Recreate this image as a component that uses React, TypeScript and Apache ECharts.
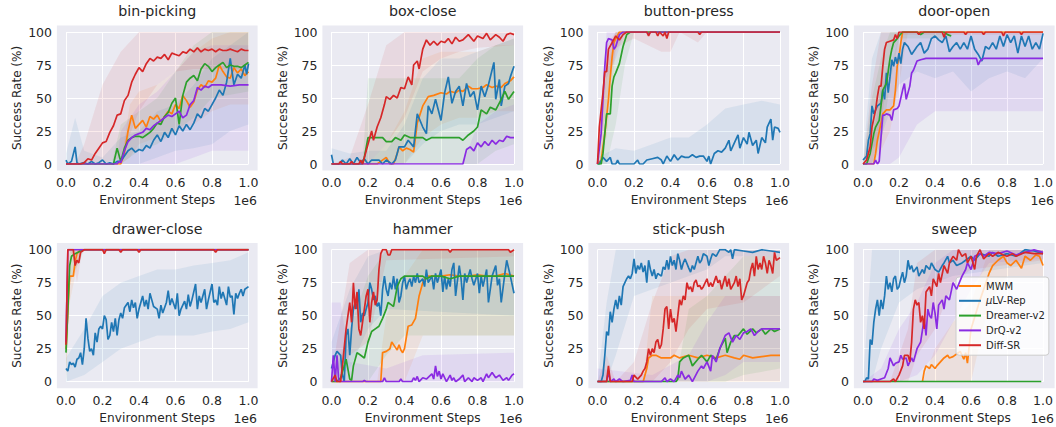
import React, { useEffect, useRef } from "react";
import * as echarts from "echarts";

type Pt = [number, number];
type Bd = [number, number, number][];

const METHODS = ["MWM", "μLV-Rep", "Dreamer-v2", "DrQ-v2", "Diff-SR"];
const COLORS = ["#ff7f0e", "#1f77b4", "#2ca02c", "#8a2be2", "#d62728"];
const TASKS = ["bin-picking", "box-close", "button-press", "door-open", "drawer-close", "hammer", "stick-push", "sweep"];
const X_TICK_STEP = 0.2;
const Y_TICK_STEP = 25;
const X_SCALE_LABEL = "1e6";
const X_NAME = "Environment Steps";
const Y_NAME = "Success Rate (%)";

// ---------- bin-picking ----------
const binMWM: Pt[] = [[0,0],[0.3,0],[0.32,8],[0.34,25],[0.36,37],[0.38,27],[0.4,30],[0.42,33],[0.44,28],[0.46,36],[0.48,34],[0.5,37],[0.52,32],[0.54,36],[0.56,40],[0.58,38],[0.6,45],[0.62,42],[0.64,52],[0.66,48],[0.68,43],[0.7,47],[0.72,56],[0.74,60],[0.76,58],[0.78,63],[0.8,62],[0.82,65],[0.84,75],[0.86,70],[0.88,66],[0.9,65],[0.92,73],[0.94,69],[0.96,72],[0.98,67],[1.0,70]];
const binLV: Pt[] = [[0,3],[0.01,0],[0.03,2],[0.05,13],[0.06,1],[0.07,0],[0.1,1],[0.12,0],[0.14,2],[0.16,0],[0.18,1],[0.2,3],[0.22,0],[0.24,1],[0.26,0],[0.28,2],[0.3,2],[0.32,6],[0.34,10],[0.36,12],[0.38,9],[0.4,11],[0.42,10],[0.44,14],[0.46,12],[0.48,18],[0.5,22],[0.52,17],[0.54,24],[0.56,20],[0.58,27],[0.6,22],[0.62,29],[0.64,25],[0.66,30],[0.68,26],[0.7,31],[0.72,38],[0.74,35],[0.76,42],[0.78,40],[0.8,45],[0.82,50],[0.84,56],[0.86,52],[0.88,62],[0.9,80],[0.92,60],[0.94,68],[0.96,65],[0.98,75],[0.99,68],[1.0,76]];
const binDreamer: Pt[] = [[0,0],[0.26,0],[0.28,12],[0.3,2],[0.32,12],[0.34,18],[0.36,20],[0.38,21],[0.4,21],[0.42,20],[0.44,22],[0.46,24],[0.48,27],[0.5,31],[0.52,30],[0.54,36],[0.56,39],[0.58,46],[0.6,50],[0.62,30],[0.64,52],[0.66,62],[0.68,65],[0.7,67],[0.72,63],[0.74,72],[0.76,76],[0.78,74],[0.8,70],[0.82,73],[0.84,75],[0.86,77],[0.88,73],[0.9,75],[0.92,74],[0.94,74],[0.96,73],[0.98,75],[1.0,77]];
const binDrQ: Pt[] = [[0,0],[0.28,0],[0.29,2],[0.3,1],[0.32,10],[0.34,17],[0.36,20],[0.38,22],[0.4,23],[0.42,24],[0.44,27],[0.46,26],[0.48,29],[0.5,31],[0.52,33],[0.54,35],[0.56,37],[0.58,36],[0.6,38],[0.62,40],[0.64,35],[0.66,37],[0.68,45],[0.7,48],[0.72,58],[0.74,56],[0.76,59],[0.78,58],[0.8,60],[0.85,60],[0.9,59],[0.95,60],[1.0,60]];
const binDiff: Pt[] = [[0,0],[0.08,0],[0.1,1],[0.12,4],[0.14,3],[0.16,8],[0.18,12],[0.2,16],[0.22,17],[0.24,24],[0.26,29],[0.28,37],[0.3,38],[0.32,48],[0.34,52],[0.36,62],[0.38,68],[0.4,73],[0.42,70],[0.44,76],[0.46,80],[0.48,78],[0.5,81],[0.52,80],[0.54,83],[0.56,79],[0.58,84],[0.6,83],[0.62,82],[0.64,85],[0.66,84],[0.68,87],[0.7,85],[0.72,88],[0.74,85],[0.76,87],[0.78,86],[0.8,87],[0.82,85],[0.84,87],[0.86,86],[0.88,86],[0.9,87],[0.92,86],[0.94,85],[0.96,87],[0.98,86],[1.0,86]];
const binMWMBand: Bd = [[0.3,0,0],[0.35,5,45],[0.4,15,55],[0.5,20,60],[0.6,25,70],[0.7,30,85],[0.8,40,95],[0.9,45,100],[1,45,100]];
const binLVBand: Bd = [[0,0,8],[0.05,0,35],[0.1,0,10],[0.2,0,5],[0.3,0,20],[0.4,0,25],[0.5,5,40],[0.6,10,45],[0.7,12,60],[0.8,15,80],[0.9,25,90],[1,30,100]];
const binDreamerBand: Bd = [[0.25,0,0],[0.3,0,30],[0.4,10,40],[0.5,15,50],[0.6,25,70],[0.7,35,90],[0.8,50,100],[1,55,100]];
const binDrQBand: Bd = [[0.28,0,0],[0.3,0,25],[0.4,0,45],[0.5,0,55],[0.6,0,70],[0.7,5,85],[0.8,10,90],[1,10,90]];
const binDiffBand: Bd = [[0.05,0,0],[0.1,0,15],[0.2,0,60],[0.3,5,85],[0.4,40,100],[0.5,60,100],[0.6,70,100],[0.7,72,100],[1,72,100]];

// ---------- box-close ----------
const boxMWM: Pt[] = [[0,0],[0.25,0],[0.27,2],[0.3,5],[0.32,0],[0.34,0],[0.36,8],[0.37,13],[0.39,10],[0.41,12],[0.43,11],[0.45,9],[0.47,31],[0.5,44],[0.53,51],[0.56,52],[0.6,54],[0.63,53],[0.65,55],[0.68,54],[0.7,56],[0.72,55],[0.75,59],[0.77,57],[0.8,57],[0.83,58],[0.85,60],[0.88,58],[0.9,59],[0.93,58],[0.95,61],[0.98,63],[1.0,66]];
const boxLV: Pt[] = [[0,7],[0.01,0],[0.04,0],[0.06,3],[0.08,0],[0.1,4],[0.12,0],[0.14,5],[0.16,1],[0.18,4],[0.2,0],[0.22,3],[0.26,3],[0.28,0],[0.3,3],[0.33,0],[0.35,3],[0.37,13],[0.4,13],[0.42,18],[0.45,13],[0.47,38],[0.5,28],[0.52,23],[0.53,44],[0.55,38],[0.57,49],[0.6,33],[0.62,54],[0.64,66],[0.66,46],[0.68,55],[0.7,59],[0.72,44],[0.74,61],[0.76,51],[0.78,55],[0.8,41],[0.82,59],[0.84,51],[0.86,60],[0.89,77],[0.9,49],[0.92,64],[0.93,44],[0.95,59],[0.97,61],[0.98,66],[1.0,74]];
const boxDreamer: Pt[] = [[0,0],[0.17,0],[0.18,5],[0.2,20],[0.25,20],[0.28,20],[0.3,17],[0.33,17],[0.35,20],[0.38,18],[0.4,22],[0.43,20],[0.45,20],[0.5,20],[0.52,18],[0.55,20],[0.6,20],[0.65,20],[0.7,20],[0.72,18],[0.75,22],[0.78,25],[0.8,28],[0.82,41],[0.85,38],[0.87,43],[0.9,41],[0.93,49],[0.95,55],[0.97,49],[1.0,55]];
const boxDrQ: Pt[] = [[0,0],[0.72,0],[0.74,11],[0.76,13],[0.78,10],[0.8,16],[0.82,13],[0.84,17],[0.86,14],[0.88,18],[0.9,15],[0.92,18],[0.94,17],[0.96,21],[0.98,20],[1.0,20]];
const boxDiff: Pt[] = [[0,0],[0.04,0],[0.05,2],[0.06,0],[0.1,0],[0.11,2],[0.12,0],[0.15,0],[0.16,3],[0.17,0],[0.18,5],[0.2,15],[0.22,25],[0.23,18],[0.25,28],[0.27,35],[0.29,45],[0.3,51],[0.32,49],[0.34,52],[0.36,50],[0.38,58],[0.4,57],[0.42,66],[0.44,60],[0.45,75],[0.47,78],[0.48,72],[0.5,87],[0.52,94],[0.54,90],[0.56,93],[0.58,90],[0.6,93],[0.62,92],[0.64,95],[0.66,91],[0.68,96],[0.7,93],[0.72,94],[0.75,98],[0.78,93],[0.8,97],[0.83,95],[0.85,99],[0.87,94],[0.9,98],[0.92,96],[0.94,93],[0.96,98],[0.98,99],[1.0,98]];
const boxMWMBand: Bd = [[0.2,0,0],[0.3,0,15],[0.4,0,40],[0.5,20,80],[0.6,30,85],[0.7,35,85],[0.8,35,85],[0.9,40,90],[1,40,90]];
const boxLVBand: Bd = [[0,0,12],[0.1,0,8],[0.2,0,10],[0.3,0,10],[0.4,0,30],[0.5,15,65],[0.6,25,80],[0.7,30,80],[0.8,30,85],[0.9,35,90],[1,40,95]];
const boxDreamerBand: Bd = [[0.17,0,0],[0.2,0,65],[0.7,0,65],[0.8,0,80],[0.9,10,90],[1,15,95]];
const boxDrQBand: Bd = [[0.72,0,0],[0.8,0,30],[0.9,0,40],[1,0,45]];
const boxDiffBand: Bd = [[0,0,0],[0.1,0,5],[0.2,0,45],[0.3,15,90],[0.4,35,100],[0.5,70,100],[0.6,80,100],[0.7,85,100],[0.8,88,100],[1,90,100]];

// ---------- button-press ----------
const btnMWM: Pt[] = [[0,0],[0.02,3],[0.04,23],[0.06,49],[0.07,66],[0.08,81],[0.09,92],[0.1,95],[0.12,100],[1.0,100]];
const btnLV: Pt[] = [[0,0],[0.01,0],[0.03,5],[0.05,2],[0.07,5],[0.08,0],[0.1,0],[0.11,3],[0.12,0],[0.2,0],[0.22,3],[0.23,0],[0.25,0],[0.27,3],[0.3,4],[0.33,5],[0.35,3],[0.36,0],[0.38,6],[0.4,2],[0.42,7],[0.44,3],[0.46,6],[0.48,5],[0.5,5],[0.52,7],[0.54,5],[0.56,6],[0.58,6],[0.6,2],[0.61,6],[0.62,0],[0.64,8],[0.66,10],[0.68,9],[0.7,12],[0.72,18],[0.73,10],[0.75,16],[0.77,22],[0.78,12],[0.8,20],[0.82,15],[0.83,24],[0.85,14],[0.87,18],[0.88,8],[0.9,20],[0.92,16],[0.93,28],[0.95,34],[0.96,18],[0.97,28],[0.99,27],[1.0,24]];
const btnDreamer: Pt[] = [[0,0],[0.02,0],[0.03,8],[0.04,23],[0.05,38],[0.07,38],[0.08,59],[0.09,66],[0.1,69],[0.12,76],[0.14,89],[0.16,98],[0.18,100],[1.0,100]];
const btnDrQ: Pt[] = [[0,0],[0.02,23],[0.03,49],[0.04,74],[0.05,92],[0.06,95],[0.08,94],[0.09,87],[0.1,89],[0.12,98],[0.14,100],[0.27,100],[0.28,98],[0.29,100],[1.0,100]];
const btnDiff: Pt[] = [[0,0],[0.01,28],[0.03,54],[0.04,70],[0.05,70],[0.06,87],[0.08,92],[0.1,97],[0.12,94],[0.14,98],[0.16,100],[0.27,100],[0.28,97],[0.29,100],[0.32,100],[0.33,97],[0.34,100],[0.36,97],[0.37,100],[0.38,95],[0.39,100],[0.55,100],[0.56,98],[0.57,100],[1.0,100]];
const btnMWMBand: Bd = [[0,0,0],[0.05,20,85],[0.1,85,100],[0.15,100,100],[1,100,100]];
const btnLVBand: Bd = [[0,0,5],[0.1,0,12],[0.2,0,10],[0.3,0,15],[0.4,0,20],[0.5,0,20],[0.6,0,30],[0.7,0,42],[0.8,0,45],[0.9,0,48],[1,0,45]];
const btnDreamerBand: Bd = [[0,0,0],[0.05,0,70],[0.1,30,100],[0.15,75,100],[0.2,100,100],[1,100,100]];
const btnDrQBand: Bd = [[0,0,0],[0.05,65,100],[0.1,80,100],[0.15,100,100],[1,100,100]];
const btnDiffBand: Bd = [[0,0,0],[0.05,45,90],[0.1,88,100],[0.2,95,100],[0.35,85,100],[0.4,85,100],[0.45,100,100],[0.55,92,100],[0.6,100,100],[1,100,100]];

// ---------- door-open ----------
const doorMWM: Pt[] = [[0,0],[0.06,0],[0.07,8],[0.08,18],[0.1,31],[0.11,38],[0.13,41],[0.15,41],[0.17,44],[0.18,56],[0.19,74],[0.2,81],[0.21,92],[0.22,100],[1.0,100]];
const doorLV: Pt[] = [[0,3],[0.02,6],[0.03,18],[0.04,23],[0.05,44],[0.06,38],[0.07,41],[0.08,44],[0.1,46],[0.11,56],[0.12,49],[0.13,69],[0.14,54],[0.15,66],[0.16,79],[0.17,74],[0.18,81],[0.19,76],[0.2,84],[0.21,76],[0.22,87],[0.23,92],[0.25,89],[0.27,83],[0.29,87],[0.3,89],[0.32,92],[0.34,84],[0.36,87],[0.38,95],[0.4,97],[0.42,94],[0.44,92],[0.46,97],[0.48,85],[0.5,89],[0.52,92],[0.54,87],[0.56,92],[0.58,87],[0.6,97],[0.62,87],[0.64,83],[0.66,78],[0.68,89],[0.7,87],[0.72,92],[0.74,87],[0.76,97],[0.78,89],[0.8,98],[0.82,92],[0.84,97],[0.86,84],[0.88,97],[0.9,89],[0.92,97],[0.94,87],[0.96,92],[0.98,87],[1.0,99]];
const doorDreamer: Pt[] = [[0,0],[0.02,0],[0.04,8],[0.06,23],[0.07,28],[0.09,33],[0.1,44],[0.11,56],[0.13,61],[0.14,70],[0.15,80],[0.16,87],[0.17,92],[0.19,95],[0.2,97],[0.22,100],[0.3,100],[0.32,98],[0.34,100],[0.45,100],[0.47,98],[0.49,97]];
const doorDrQ: Pt[] = [[0,0],[0.06,0],[0.07,3],[0.08,0],[0.09,2],[0.1,20],[0.11,37],[0.12,37],[0.13,38],[0.15,37],[0.16,33],[0.17,41],[0.19,42],[0.2,44],[0.22,56],[0.23,61],[0.24,49],[0.26,59],[0.27,69],[0.28,71],[0.3,78],[0.32,79],[0.35,80],[0.63,80],[0.64,75],[0.65,78],[0.67,80],[1.0,80]];
const doorDiff: Pt[] = [[0,0],[0.02,3],[0.04,13],[0.05,28],[0.07,41],[0.08,51],[0.09,59],[0.1,59],[0.11,74],[0.12,87],[0.13,92],[0.15,93],[0.17,94],[0.18,98],[0.19,95],[0.2,100],[0.3,100],[0.31,98],[0.32,100],[0.44,100],[0.45,96],[0.46,100],[0.56,100],[0.57,98],[0.58,100],[0.66,100],[0.67,98],[0.68,100],[0.77,100],[0.78,97],[0.79,100],[0.87,100],[0.88,98],[0.89,100],[1.0,100]];
const doorMWMBand: Bd = [[0,0,0],[0.05,0,20],[0.1,10,60],[0.15,25,70],[0.2,60,100],[0.25,100,100],[1,100,100]];
const doorLVBand: Bd = [[0,0,5],[0.05,10,80],[0.1,20,100],[0.2,60,100],[0.3,70,100],[0.4,65,100],[0.5,70,100],[0.6,55,100],[0.7,65,100],[0.8,70,100],[0.9,65,100],[1,80,100]];
const doorDreamerBand: Bd = [[0,0,0],[0.05,0,50],[0.1,15,80],[0.15,60,100],[0.2,95,100],[0.49,95,100]];
const doorDrQBand: Bd = [[0,0,0],[0.05,0,10],[0.1,0,60],[0.15,0,80],[0.2,5,100],[0.3,30,100],[0.4,40,100],[1,40,100]];
const doorDiffBand: Bd = [[0,0,0],[0.05,0,60],[0.1,30,100],[0.15,80,100],[0.2,98,100],[1,98,100]];

// ---------- drawer-close ----------
const drawerMWM: Pt[] = [[0,25],[0.02,80],[0.04,80],[0.05,91],[0.06,97],[0.08,100],[1.0,100]];
const drawerLV: Pt[] = [[0,10],[0.01,8],[0.02,15],[0.03,13],[0.04,14],[0.05,11],[0.06,17],[0.07,18],[0.08,22],[0.09,13],[0.1,25],[0.11,48],[0.12,33],[0.13,23],[0.14,25],[0.15,20],[0.16,37],[0.17,30],[0.18,40],[0.19,42],[0.2,40],[0.21,50],[0.22,47],[0.23,32],[0.24,35],[0.25,45],[0.26,38],[0.27,48],[0.28,35],[0.29,47],[0.3,52],[0.31,48],[0.32,56],[0.34,60],[0.35,53],[0.36,62],[0.37,56],[0.38,60],[0.39,48],[0.4,55],[0.42,65],[0.43,57],[0.44,62],[0.45,55],[0.46,67],[0.47,62],[0.48,57],[0.5,55],[0.51,48],[0.52,58],[0.53,52],[0.55,60],[0.56,69],[0.57,58],[0.58,63],[0.6,55],[0.61,67],[0.62,50],[0.63,55],[0.65,61],[0.66,55],[0.67,66],[0.68,57],[0.69,62],[0.71,74],[0.72,55],[0.73,65],[0.74,60],[0.76,70],[0.77,55],[0.78,62],[0.8,74],[0.81,60],[0.82,62],[0.83,58],[0.84,72],[0.85,63],[0.86,68],[0.88,58],[0.89,72],[0.9,64],[0.91,65],[0.92,51],[0.93,67],[0.94,63],[0.95,67],[0.96,70],[0.97,65],[0.98,70],[1.0,72]];
const drawerDreamer: Pt[] = [[0,22],[0.02,88],[0.03,95],[0.05,97],[0.08,99],[0.1,100],[1.0,100]];
const drawerDrQ: Pt[] = [[0,30],[0.01,100],[1.0,100]];
const drawerDiff: Pt[] = [[0,28],[0.01,100],[0.04,100],[0.05,88],[0.06,92],[0.07,90],[0.08,98],[0.1,100],[0.2,100],[0.21,97],[0.22,100],[0.29,100],[0.3,98],[0.31,100],[0.39,100],[0.4,98],[0.41,100],[0.81,100],[0.82,98],[0.83,100],[1.0,100]];
const drawerMWMBand: Bd = [[0,0,60],[0.02,60,100],[0.05,80,100],[0.08,100,100],[1,100,100]];
const drawerLVBand: Bd = [[0,0,18],[0.1,5,40],[0.2,15,65],[0.3,25,75],[0.4,30,80],[0.5,35,85],[0.6,35,85],[0.7,35,88],[0.8,38,90],[0.9,40,92],[1,45,98]];
const drawerDreamerBand: Bd = [[0,0,50],[0.02,75,100],[0.1,100,100],[1,100,100]];
const drawerDrQBand: Bd = [[0,0,70],[0.01,100,100],[1,100,100]];
const drawerDiffBand: Bd = [[0,0,60],[0.01,100,100],[0.04,95,100],[0.06,75,100],[0.09,100,100],[1,100,100]];

// ---------- hammer ----------
const hamMWM: Pt[] = [[0,0],[0.27,0],[0.28,22],[0.3,23],[0.32,25],[0.33,30],[0.35,26],[0.36,24],[0.37,28],[0.38,24],[0.39,22],[0.4,25],[0.42,42],[0.44,43],[0.46,48],[0.48,65],[0.5,75],[0.52,80],[0.55,80],[0.6,80],[0.65,81],[0.7,80],[0.75,80],[0.8,81],[0.85,80],[0.9,80],[0.95,82],[1.0,80]];
const hamLV: Pt[] = [[0,10],[0.02,20],[0.03,23],[0.05,20],[0.06,5],[0.07,0],[0.08,35],[0.09,40],[0.1,20],[0.11,40],[0.12,55],[0.13,60],[0.14,55],[0.15,70],[0.16,45],[0.17,52],[0.18,50],[0.19,55],[0.2,60],[0.21,75],[0.22,70],[0.23,62],[0.24,65],[0.25,57],[0.26,60],[0.27,50],[0.28,70],[0.29,80],[0.3,70],[0.31,65],[0.32,75],[0.33,70],[0.34,80],[0.35,70],[0.36,78],[0.37,60],[0.38,65],[0.39,75],[0.4,80],[0.41,70],[0.42,75],[0.43,78],[0.44,72],[0.45,80],[0.46,75],[0.47,82],[0.48,75],[0.5,78],[0.51,72],[0.52,85],[0.53,75],[0.55,80],[0.56,70],[0.57,82],[0.58,75],[0.6,85],[0.61,68],[0.62,80],[0.63,70],[0.64,78],[0.65,72],[0.66,85],[0.67,90],[0.68,65],[0.7,88],[0.71,78],[0.72,62],[0.73,82],[0.74,75],[0.76,85],[0.77,78],[0.78,73],[0.8,82],[0.81,67],[0.82,80],[0.83,72],[0.85,85],[0.86,60],[0.87,70],[0.88,80],[0.9,88],[0.91,73],[0.92,78],[0.93,60],[0.95,82],[0.96,92],[0.97,86],[0.98,80],[1.0,67]];
const hamDreamer: Pt[] = [[0,0],[0.03,0],[0.05,3],[0.07,12],[0.08,17],[0.1,2],[0.11,1],[0.12,12],[0.14,22],[0.16,20],[0.18,18],[0.2,30],[0.22,38],[0.24,40],[0.26,42],[0.28,48],[0.3,55],[0.31,60],[0.33,58],[0.34,57],[0.36,72],[0.38,78],[0.4,80],[0.45,80],[0.5,80],[0.52,78],[0.55,80],[0.6,80],[0.65,78],[0.7,80],[1.0,80]];
const hamDrQ: Pt[] = [[0,0],[0.01,20],[0.02,0],[0.03,20],[0.04,0],[0.17,0],[0.18,1],[0.19,0],[0.28,0],[0.29,3],[0.3,0],[0.37,0],[0.38,2],[0.39,0],[0.44,0],[0.45,3],[0.46,1],[0.47,4],[0.48,0],[0.5,3],[0.52,2],[0.55,6],[0.56,2],[0.57,12],[0.58,4],[0.59,8],[0.6,2],[0.61,6],[0.62,3],[0.63,0],[0.65,5],[0.66,1],[0.67,3],[0.68,0],[0.7,2],[0.72,5],[0.73,0],[0.75,3],[0.77,0],[0.78,3],[0.8,1],[0.82,3],[0.83,0],[0.85,6],[0.86,3],[0.88,7],[0.9,3],[0.92,5],[0.94,1],[0.96,3],[0.97,1],[0.99,5],[1.0,6]];
const hamDiff: Pt[] = [[0,0],[0.02,5],[0.03,0],[0.05,0],[0.06,12],[0.08,40],[0.1,60],[0.11,45],[0.12,75],[0.13,55],[0.14,68],[0.15,40],[0.16,35],[0.17,45],[0.18,55],[0.19,65],[0.2,70],[0.21,45],[0.22,60],[0.23,68],[0.24,58],[0.25,62],[0.26,85],[0.27,97],[0.28,100],[0.3,100],[0.31,96],[0.32,96],[0.33,100],[0.64,100],[0.65,98],[0.66,100],[0.97,100],[0.98,98],[1.0,100]];
const hamMWMBand: Bd = [[0.25,0,0],[0.3,0,50],[0.4,0,80],[0.5,35,100],[1,35,100]];
const hamLVBand: Bd = [[0,0,30],[0.1,10,70],[0.2,40,95],[0.3,55,100],[1,50,100]];
const hamDreamerBand: Bd = [[0,0,0],[0.1,0,40],[0.2,0,80],[0.3,20,100],[0.4,35,100],[1,35,100]];
const hamDrQBand: Bd = [[0,0,60],[0.05,0,60],[0.1,0,15],[0.3,0,10],[0.5,0,20],[1,0,22]];
const hamDiffBand: Bd = [[0,0,5],[0.1,20,90],[0.2,30,100],[0.3,92,100],[1,95,100]];

// ---------- stick-push ----------
const stickMWM: Pt[] = [[0,0],[0.25,0],[0.27,10],[0.28,18],[0.3,20],[0.32,20],[0.35,18],[0.4,18],[0.42,20],[0.45,18],[0.5,20],[0.55,18],[0.6,20],[0.65,18],[0.7,20],[0.75,18],[0.78,17],[0.8,20],[0.85,18],[0.9,19],[0.95,20],[1.0,20]];
const stickLV: Pt[] = [[0,0],[0.02,0],[0.03,5],[0.04,20],[0.05,38],[0.06,35],[0.07,53],[0.08,45],[0.09,55],[0.1,62],[0.11,55],[0.12,65],[0.13,58],[0.14,72],[0.15,75],[0.16,78],[0.17,80],[0.18,78],[0.19,82],[0.2,93],[0.21,82],[0.22,88],[0.23,85],[0.24,90],[0.25,83],[0.26,88],[0.27,75],[0.28,92],[0.29,85],[0.3,80],[0.31,85],[0.32,78],[0.33,82],[0.35,80],[0.36,87],[0.37,85],[0.38,92],[0.39,85],[0.4,95],[0.41,88],[0.42,92],[0.43,85],[0.44,97],[0.45,92],[0.46,85],[0.47,90],[0.48,93],[0.5,86],[0.51,83],[0.52,88],[0.53,85],[0.55,95],[0.56,90],[0.57,92],[0.58,97],[0.6,95],[0.61,88],[0.62,93],[0.63,97],[0.65,95],[0.67,100],[0.7,100],[0.72,98],[0.73,100],[0.74,93],[0.75,100],[0.8,99],[0.85,98],[0.9,100],[0.95,99],[1.0,98]];
const stickDreamer: Pt[] = [[0,0],[0.43,0],[0.44,2],[0.45,15],[0.47,18],[0.5,20],[0.52,12],[0.55,17],[0.57,20],[0.6,15],[0.62,20],[0.65,17],[0.67,25],[0.7,33],[0.71,22],[0.73,30],[0.75,35],[0.77,35],[0.8,40],[0.82,36],[0.85,40],[0.87,37],[0.9,40],[0.92,36],[0.95,40],[0.97,38],[1.0,40]];
const stickDrQ: Pt[] = [[0,0],[0.05,0],[0.06,8],[0.07,0],[0.09,2],[0.1,0],[0.12,2],[0.14,0],[0.18,1],[0.19,5],[0.2,0],[0.35,0],[0.37,3],[0.38,0],[0.4,2],[0.42,0],[0.44,5],[0.45,3],[0.46,8],[0.48,2],[0.5,5],[0.52,0],[0.55,8],[0.57,12],[0.58,10],[0.6,15],[0.62,8],[0.63,20],[0.65,15],[0.67,25],[0.7,35],[0.72,37],[0.74,30],[0.76,35],[0.78,32],[0.8,37],[0.82,38],[0.84,40],[0.86,35],[0.88,38],[0.9,40],[0.95,40],[1.0,40]];
const stickDiff: Pt[] = [[0,0],[0.05,0],[0.06,12],[0.07,0],[0.19,0],[0.2,5],[0.22,2],[0.24,5],[0.25,8],[0.26,10],[0.27,15],[0.28,25],[0.29,20],[0.3,25],[0.31,22],[0.32,30],[0.33,32],[0.34,25],[0.35,28],[0.36,40],[0.37,55],[0.38,57],[0.39,40],[0.4,55],[0.41,45],[0.42,48],[0.43,38],[0.44,50],[0.45,62],[0.46,58],[0.47,65],[0.48,62],[0.49,75],[0.5,70],[0.51,72],[0.52,68],[0.53,75],[0.54,77],[0.55,72],[0.56,73],[0.57,70],[0.58,72],[0.6,78],[0.61,72],[0.62,75],[0.63,72],[0.65,80],[0.66,75],[0.67,77],[0.68,70],[0.7,80],[0.71,72],[0.72,78],[0.73,70],[0.75,75],[0.76,80],[0.77,72],[0.78,78],[0.79,62],[0.8,65],[0.82,75],[0.83,77],[0.84,85],[0.85,90],[0.86,80],[0.87,95],[0.88,85],[0.89,90],[0.9,85],[0.91,95],[0.92,90],[0.93,82],[0.94,92],[0.95,88],[0.96,82],[0.97,98],[0.98,92],[1.0,94]];
const stickMWMBand: Bd = [[0.25,0,0],[0.3,0,65],[1,0,65]];
const stickLVBand: Bd = [[0,0,0],[0.05,0,60],[0.1,20,100],[0.2,65,100],[0.4,75,100],[0.6,85,100],[0.7,95,100],[1,95,100]];
const stickDreamerBand: Bd = [[0.43,0,0],[0.5,0,55],[0.6,0,65],[0.7,0,80],[0.8,5,95],[1,10,95]];
const stickDrQBand: Bd = [[0,0,10],[0.3,0,5],[0.5,0,20],[0.6,0,45],[0.7,5,65],[0.8,15,65],[1,15,65]];
const stickDiffBand: Bd = [[0,0,0],[0.05,0,20],[0.1,0,0],[0.2,0,15],[0.3,0,60],[0.4,15,95],[0.5,40,100],[0.6,55,100],[0.8,60,100],[1,80,100]];

// ---------- sweep ----------
const sweepMWM: Pt[] = [[0.33,0],[0.34,8],[0.35,12],[0.37,10],[0.38,13],[0.4,10],[0.41,12],[0.43,15],[0.45,18],[0.47,20],[0.48,18],[0.5,19],[0.52,21],[0.54,23],[0.56,17],[0.57,22],[0.58,14],[0.6,40],[0.65,62],[0.7,82],[0.72,88],[0.75,92],[0.78,95],[0.8,90],[0.82,88],[0.85,92],[0.88,86],[0.9,95],[0.93,92],[0.96,96],[0.98,95],[1.0,88]];
const sweepLV: Pt[] = [[0,0],[0.01,0],[0.02,3],[0.03,2],[0.04,32],[0.05,28],[0.06,45],[0.07,55],[0.08,62],[0.09,50],[0.1,62],[0.11,55],[0.12,65],[0.13,80],[0.14,70],[0.15,75],[0.16,68],[0.17,78],[0.18,80],[0.19,70],[0.2,72],[0.21,78],[0.22,83],[0.23,75],[0.24,80],[0.25,92],[0.26,85],[0.27,88],[0.28,83],[0.3,87],[0.31,80],[0.33,85],[0.34,82],[0.35,88],[0.37,85],[0.38,90],[0.4,85],[0.42,83],[0.44,88],[0.45,90],[0.47,95],[0.48,90],[0.5,92],[0.52,88],[0.55,90],[0.57,92],[0.6,95],[0.62,92],[0.65,97],[0.7,95],[0.72,98],[0.75,95],[0.8,97],[0.85,95],[0.9,100],[0.95,99],[1.0,97]];
const sweepDreamer: Pt[] = [[0,0],[0.99,0]];
const sweepDrQ: Pt[] = [[0,0],[0.05,0],[0.06,2],[0.08,1],[0.1,2],[0.12,3],[0.14,10],[0.15,18],[0.16,15],[0.17,12],[0.18,14],[0.2,15],[0.21,20],[0.22,17],[0.24,18],[0.25,12],[0.27,18],[0.28,15],[0.3,25],[0.32,30],[0.34,48],[0.35,35],[0.36,55],[0.37,50],[0.38,48],[0.39,60],[0.4,52],[0.41,40],[0.42,58],[0.44,62],[0.45,55],[0.46,65],[0.48,62],[0.5,75],[0.52,70],[0.55,80],[0.57,85],[0.58,90],[0.6,85],[0.62,95],[0.65,97],[0.67,95],[0.7,98],[0.75,97],[0.8,99],[0.85,96],[0.9,98],[0.95,100],[1.0,98]];
const sweepDiff: Pt[] = [[0,0],[0.15,0],[0.17,2],[0.18,0],[0.2,5],[0.22,12],[0.23,20],[0.25,20],[0.26,15],[0.27,30],[0.28,55],[0.29,62],[0.3,58],[0.31,60],[0.32,45],[0.33,50],[0.34,40],[0.35,68],[0.37,72],[0.38,65],[0.39,78],[0.41,72],[0.42,82],[0.43,75],[0.45,88],[0.47,82],[0.48,90],[0.5,95],[0.52,92],[0.53,100],[0.55,95],[0.57,97],[0.58,90],[0.6,95],[0.62,85],[0.63,95],[0.65,100],[0.67,93],[0.7,97],[0.72,95],[0.75,98],[0.78,96],[0.8,95],[0.83,97],[0.85,95],[0.9,98],[0.95,97],[1.0,97]];
const sweepMWMBand: Bd = [[0.33,0,0],[0.4,0,25],[0.5,0,45],[0.6,0,60],[0.7,60,100],[0.8,80,100],[1,80,100]];
const sweepLVBand: Bd = [[0,0,0],[0.05,0,100],[0.1,25,100],[0.2,60,100],[0.3,70,100],[0.5,80,100],[1,90,100]];
const sweepDreamerBand: Bd = [];
const sweepDrQBand: Bd = [[0,0,0],[0.1,0,10],[0.2,0,40],[0.3,5,60],[0.4,20,90],[0.5,45,100],[0.6,70,100],[0.7,90,100],[1,93,100]];
const sweepDiffBand: Bd = [[0.15,0,0],[0.25,0,40],[0.3,20,90],[0.4,40,100],[0.5,75,100],[0.6,85,100],[1,92,100]];

const LINES: Pt[][][] = [
  [binMWM, binLV, binDreamer, binDrQ, binDiff],
  [boxMWM, boxLV, boxDreamer, boxDrQ, boxDiff],
  [btnMWM, btnLV, btnDreamer, btnDrQ, btnDiff],
  [doorMWM, doorLV, doorDreamer, doorDrQ, doorDiff],
  [drawerMWM, drawerLV, drawerDreamer, drawerDrQ, drawerDiff],
  [hamMWM, hamLV, hamDreamer, hamDrQ, hamDiff],
  [stickMWM, stickLV, stickDreamer, stickDrQ, stickDiff],
  [sweepMWM, sweepLV, sweepDreamer, sweepDrQ, sweepDiff],
];
const BANDS: Bd[][] = [
  [binMWMBand, binLVBand, binDreamerBand, binDrQBand, binDiffBand],
  [boxMWMBand, boxLVBand, boxDreamerBand, boxDrQBand, boxDiffBand],
  [btnMWMBand, btnLVBand, btnDreamerBand, btnDrQBand, btnDiffBand],
  [doorMWMBand, doorLVBand, doorDreamerBand, doorDrQBand, doorDiffBand],
  [drawerMWMBand, drawerLVBand, drawerDreamerBand, drawerDrQBand, drawerDiffBand],
  [hamMWMBand, hamLVBand, hamDreamerBand, hamDrQBand, hamDiffBand],
  [stickMWMBand, stickLVBand, stickDreamerBand, stickDrQBand, stickDiffBand],
  [sweepMWMBand, sweepLVBand, sweepDreamerBand, sweepDrQBand, sweepDiffBand],
];

const FONT = "DejaVu Sans";
const TXT = "#262626";
const COL_LEFT = [66, 331.5, 597.5, 863];
const ROW_TOP = [32, 249.7];
const W = 182.5;
const H = 132;
const BAND_ALPHA = 0.09;

function rgba(hex: string, a: number) {
  const n = parseInt(hex.slice(1), 16);
  return `rgba(${(n >> 16) & 255},${(n >> 8) & 255},${n & 255},${a})`;
}

function buildOption() {
  const grid: any[] = [];
  const xAxis: any[] = [];
  const yAxis: any[] = [];
  const title: any[] = [];
  const series: any[] = [];
  const graphic: any[] = [];

  TASKS.forEach((task, i) => {
    const col = i % 4;
    const row = Math.floor(i / 4);
    const left = COL_LEFT[col];
    const top = ROW_TOP[row];
    grid.push({ left, top, width: W, height: H, show: false, containLabel: false });
    graphic.push({
      type: "rect",
      z: -10,
      silent: true,
      shape: { x: left - 0.05 * W, y: top - 0.05 * H, width: W * 1.1, height: H * 1.1 },
      style: { fill: "#eaeaf2" },
    });
    graphic.push({
      type: "text",
      silent: true,
      x: left + W + 8.5,
      y: top + H + 36.5,
      style: {
        text: X_SCALE_LABEL, fill: TXT, fontSize: 12.5, fontFamily: FONT,
        align: "right", verticalAlign: "middle", textAlign: "right", textVerticalAlign: "middle",
      },
    });
    title.push({
      text: task,
      left: left + W / 2,
      top: row === 0 ? 4 : 222,
      textAlign: "center",
      padding: 0,
      textStyle: { fontFamily: FONT, fontSize: 14.2, fontWeight: 400, color: TXT },
    });
    xAxis.push({
      type: "value", gridIndex: i, min: 0, max: 1, interval: X_TICK_STEP,
      axisLine: { show: false }, axisTick: { show: false },
      splitLine: { show: true, lineStyle: { color: "#ffffff", width: 1 } },
      axisLabel: { formatter: (v: number) => v.toFixed(1), margin: 12, color: TXT, fontSize: 12.5, fontFamily: FONT },
      name: X_NAME, nameLocation: "middle", nameGap: 30,
      nameTextStyle: { color: TXT, fontSize: 12.2, fontFamily: FONT },
    });
    yAxis.push({
      type: "value", gridIndex: i, min: 0, max: 100, interval: Y_TICK_STEP,
      axisLine: { show: false }, axisTick: { show: false },
      splitLine: { show: true, lineStyle: { color: "#ffffff", width: 1 } },
      axisLabel: { margin: 14, color: TXT, fontSize: 12.5, fontFamily: FONT },
      name: Y_NAME, nameLocation: "middle", nameGap: 43,
      nameTextStyle: { color: TXT, fontSize: 12, fontFamily: FONT },
    });

    BANDS[i].forEach((band, m) => {
      if (!band.length) return;
      const color = COLORS[m];
      series.push({
        type: "custom",
        name: METHODS[m] + " band",
        xAxisIndex: i, yAxisIndex: i,
        data: band,
        encode: { x: 0, y: [1, 2] },
        silent: true,
        z: 1,
        renderItem: (params: any, api: any) => {
          if (params.dataIndexInside !== 0) return null;
          const n = params.dataInsideLength;
          const upper: number[][] = [];
          const lower: number[][] = [];
          for (let j = 0; j < n; j++) {
            const x = api.value(0, j);
            lower.push(api.coord([x, api.value(1, j)]));
            upper.push(api.coord([x, api.value(2, j)]));
          }
          return {
            type: "polygon",
            shape: { points: upper.concat(lower.reverse()) },
            style: { fill: rgba(color, BAND_ALPHA), stroke: null },
            silent: true,
          };
        },
      });
    });

    LINES[i].forEach((line, m) => {
      series.push({
        type: "line",
        name: METHODS[m],
        xAxisIndex: i, yAxisIndex: i,
        data: line,
        showSymbol: false,
        symbol: "none",
        color: COLORS[m],
        itemStyle: { color: COLORS[m] },
        lineStyle: { color: COLORS[m], width: 1.7 },
        z: 3 + m,
      });
    });
  });

  return {
    animation: false,
    backgroundColor: "#ffffff",
    textStyle: { fontFamily: FONT },
    title,
    grid,
    xAxis,
    yAxis,
    series,
    graphic,
    legend: {
      data: METHODS,
      orient: "vertical",
      left: 956,
      top: 277,
      icon: "rect",
      itemWidth: 22,
      itemHeight: 2,
      itemGap: 0.8,
      padding: [2, 4, 3, 3],
      backgroundColor: "rgba(255,255,255,0.8)",
      borderColor: "#cccccc",
      borderWidth: 1,
      borderRadius: 3,
      selectedMode: false,
      formatter: (name: string) => (name.startsWith("μ") ? "{i|μ}" + name.slice(1) : name),
      textStyle: {
        fontSize: 10, lineHeight: 14, color: TXT, fontFamily: FONT,
        rich: { i: { fontStyle: "italic", fontSize: 10, lineHeight: 14, color: TXT, fontFamily: FONT } },
      },
    },
  };
}

export default function App() {
  const ref = useRef<HTMLDivElement>(null);
  useEffect(() => {
    if (!ref.current) return;
    const chart = echarts.init(ref.current, null, { renderer: "svg" });
    chart.setOption(buildOption() as any);
    return () => chart.dispose();
  }, []);
  return (
    <div
      ref={ref}
      style={{ position: "fixed", left: 0, top: 0, width: 1056, height: 427, background: "#ffffff" }}
    />
  );
}
